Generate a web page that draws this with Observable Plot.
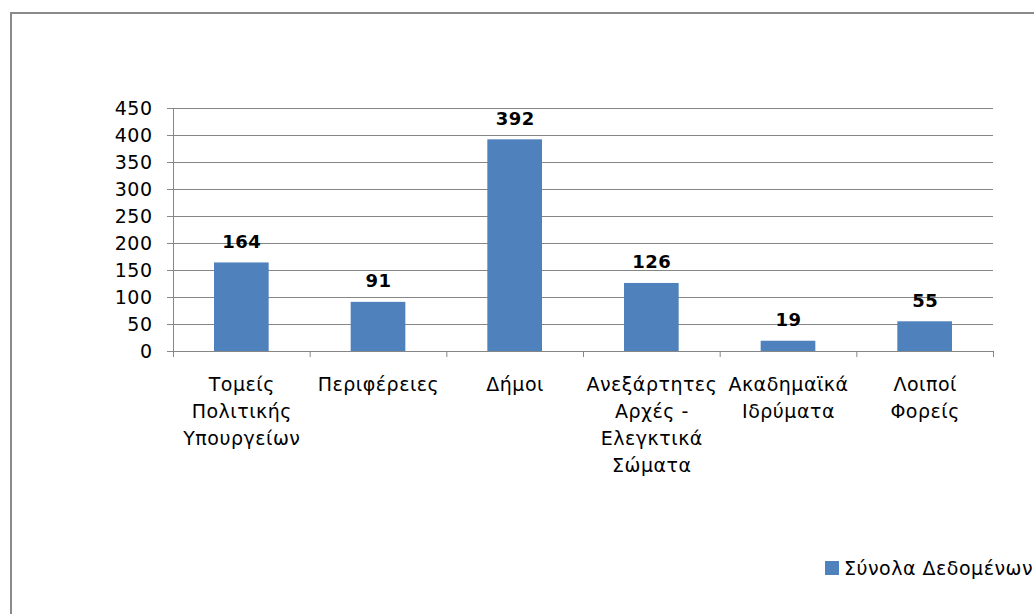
<!DOCTYPE html>
<html>
<head>
<meta charset="utf-8">
<script src="https://cdn.jsdelivr.net/npm/d3@7"></script>
<script src="https://cdn.jsdelivr.net/npm/@observablehq/plot@0.6"></script>
<style>
  html, body { margin: 0; padding: 0; width: 1034px; height: 614px; overflow: hidden; background: #fff; }
  #frame { position: absolute; left: 10px; top: 12px; width: 1100px; height: 700px; border: 2px solid #8a8a8a; box-sizing: border-box; }
  #chart { position: absolute; left: 0; top: 0; }
  #chart text { letter-spacing: 0.5px; }
  #legend { position: absolute; left: 825px; top: 557px; font-family: "DejaVu Sans", sans-serif; font-size: 19px; letter-spacing: 0.5px; color: #000; white-space: nowrap; display: flex; align-items: center; }
  #legend .sw { width: 14px; height: 14px; background: #4F81BD; margin-right: 5px; }
</style>
</head>
<body>
<div id="frame"></div>
<div id="chart"></div>
<div id="legend"><span class="sw"></span><span>Σύνολα Δεδομένων</span></div>
<script>
const categories = [
  "Τομείς\nΠολιτικής\nΥπουργείων",
  "Περιφέρειες",
  "Δήμοι",
  "Ανεξάρτητες\nΑρχές -\nΕλεγκτικά\nΣώματα",
  "Ακαδημαϊκά\nΙδρύματα",
  "Λοιποί\nΦορείς"
];
const values = [164, 91, 392, 126, 19, 55];
const yTicks = [0, 50, 100, 150, 200, 250, 300, 350, 400, 450];

const data = categories.map((c, i) => ({i, category: c, value: values[i]}));
const bounds = d3.range(categories.length + 1);

const gridColor = "#868686";

const chart = Plot.plot({
  width: 1034,
  height: 614,
  marginLeft: 173,
  marginRight: 41,
  marginTop: 108,
  marginBottom: 263,
  style: {fontFamily: "DejaVu Sans, sans-serif", fontSize: "19px", color: "#000", background: "transparent"},
  x: {type: "linear", domain: [0, categories.length], axis: null},
  y: {domain: [0, 450], axis: null},
  marks: [
    Plot.gridY(yTicks, {stroke: gridColor, strokeOpacity: 1}),
    Plot.rectY(data, {x1: d => d.i + 0.3, x2: d => d.i + 0.7, y: "value", fill: "#4F81BD"}),
    Plot.ruleX([0], {stroke: gridColor}),
    Plot.ruleY([0], {stroke: gridColor}),
    Plot.axisY(yTicks, {tickSize: 6, tickPadding: 15, stroke: gridColor, fontSize: 19, label: null, color: "#000"}),
    Plot.axisX(bounds, {tickSize: 6, tickFormat: () => "", stroke: gridColor, label: null}),
    Plot.text(data, {x: d => d.i + 0.5, y: 0, text: "category", lineAnchor: "top", lineHeight: 1.42, dy: 20, fontSize: 19, fill: "#000"}),
    Plot.text(data, {x: d => d.i + 0.5, y: "value", text: d => String(d.value), lineAnchor: "bottom", dy: -15, fontSize: 18, fontWeight: "bold", fill: "#000"})
  ]
});
document.getElementById("chart").appendChild(chart);
</script>
</body>
</html>
